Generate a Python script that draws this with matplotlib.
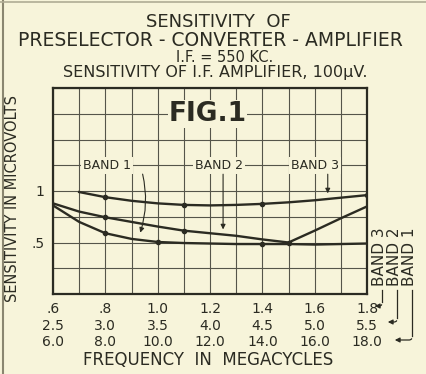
import matplotlib
matplotlib.use("Agg")
import matplotlib.pyplot as plt
from matplotlib.lines import Line2D

# frequency steps on the band 1 scale (megacycles)
freq = [0.6, 0.7, 0.8, 0.9, 1.0, 1.1, 1.2, 1.3, 1.4, 1.5, 1.6, 1.7, 1.8]
band1 = [0.86, 0.70, 0.59, 0.535, 0.505, 0.495, 0.49, 0.485, 0.485, 0.485, 0.48, 0.485, 0.49]
band2 = [0.88, 0.80, 0.745, 0.70, 0.655, 0.615, 0.59, 0.565, 0.53, 0.50, 0.615, 0.735, 0.85]
freq3 = freq[1:]
band3 = [0.99, 0.94, 0.905, 0.88, 0.865, 0.86, 0.865, 0.875, 0.89, 0.91, 0.935, 0.96]

row1 = [".6", ".8", "1.0", "1.2", "1.4", "1.6", "1.8"]
row2 = ["2.5", "3.0", "3.5", "4.0", "4.5", "5.0", "5.5"]
row3 = ["6.0", "8.0", "10.0", "12.0", "14.0", "16.0", "18.0"]
tick_pos = [0.6, 0.8, 1.0, 1.2, 1.4, 1.6, 1.8]

BG = "#f7f4da"
INK = "#2b2b22"
W, H = 427, 374


def px(x, y):
    return x / W, 1 - y / H


fig = plt.figure(figsize=(W / 100, H / 100), dpi=100, facecolor=BG)
ax = fig.add_axes([53 / W, 1 - 294 / H, (367 - 53) / W, (294 - 88) / H])
ax.set_facecolor(BG)
ax.set_xlim(0.6, 1.8)
ax.set_ylim(0, 2.0)

for i in range(13):
    ax.axvline(0.6 + 0.1 * i, color="#55554a", lw=0.8, zorder=1)
for j in range(9):
    ax.axhline(0.25 * j, color="#55554a", lw=0.8, zorder=1)
for s in ax.spines.values():
    s.set_linewidth(1.6)
    s.set_color(INK)

ax.plot(freq, band1, color=INK, lw=1.7, marker="o", ms=3, markevery=[2, 4, 8], zorder=3)
ax.plot(freq, band2, color=INK, lw=1.7, marker="o", ms=3, markevery=[2, 5, 9], zorder=3)
ax.plot(freq3, band3, color=INK, lw=1.7, marker="o", ms=3, markevery=[1, 4, 7, 11], zorder=3)

ax.set_yticks([0.5, 1.0])
ax.set_yticklabels([".5", "1"], fontsize=10, color=INK)
ax.set_xticks(tick_pos)
ax.set_xticklabels(["\n".join(r) for r in zip(row1, row2, row3)],
                   fontsize=10, color=INK, linespacing=1.2)
ax.tick_params(length=0, pad=6)

box = dict(facecolor=BG, edgecolor="none", pad=1.5)
ax.text(1.19, 1.75, "FIG.1", fontsize=19, fontweight="bold", color=INK,
        ha="center", va="center", bbox=dict(facecolor=BG, edgecolor="none", pad=0.5), zorder=4)
ax.text(0.806, 1.25, "BAND 1", fontsize=9, color=INK, ha="center", va="center", bbox=box, zorder=4)
ax.text(1.234, 1.25, "BAND 2", fontsize=9, color=INK, ha="center", va="center", bbox=box, zorder=4)
ax.text(1.60, 1.25, "BAND 3", fontsize=9, color=INK, ha="center", va="center", bbox=box, zorder=4)

arrow = dict(arrowstyle="-|>", color=INK, lw=0.8, mutation_scale=7)
ax.annotate("", xy=(0.93, 0.57), xytext=(0.94, 1.19),
            arrowprops=dict(arrow, connectionstyle="arc3,rad=-0.15"), zorder=4)
ax.annotate("", xy=(1.25, 0.60), xytext=(1.25, 1.19), arrowprops=arrow, zorder=4)
ax.annotate("", xy=(1.65, 0.95), xytext=(1.65, 1.19), arrowprops=arrow, zorder=4)

# headings
fig.text(*px(218, 22), "SENSITIVITY  OF", fontsize=13, color=INK, ha="center", va="center")
fig.text(*px(210, 40), "PRESELECTOR - CONVERTER - AMPLIFIER", fontsize=13.5, color=INK,
         ha="center", va="center")
fig.text(*px(225, 57), "I.F. = 550 KC.", fontsize=10.5, color=INK, ha="center", va="center")
fig.text(*px(215, 73), "SENSITIVITY OF I.F. AMPLIFIER, 100\u03bcV.", fontsize=11.5, color=INK,
         ha="center", va="center")
fig.text(*px(13, 198), "SENSITIVITY IN MICROVOLTS", fontsize=10.5, color=INK, rotation=90,
         ha="center", va="center")
fig.text(*px(208, 360), "FREQUENCY  IN  MEGACYCLES", fontsize=12, color=INK, ha="center", va="center")

# band scale keys on the right
for xk, name in [(380, "BAND 3"), (395, "BAND 2"), (410, "BAND 1")]:
    fig.text(*px(xk, 286), name, fontsize=11, color=INK, rotation=90, ha="center", va="bottom")

key_arrow = dict(arrowstyle="-|>", color=INK, lw=0.9, mutation_scale=7)
for x0, yend, xtip in [(382, 306, 372), (397, 322, 385), (412, 340, 392)]:
    fig.add_artist(Line2D([x0 / W, x0 / W], [1 - 290 / H, 1 - (yend - 4) / H], color=INK, lw=0.9))
    ax.annotate("", xy=(xtip, H - yend), xytext=(x0, H - yend + 4), xycoords="figure pixels",
                textcoords="figure pixels", annotation_clip=False,
                arrowprops=dict(key_arrow, connectionstyle="angle,angleA=90,angleB=0,rad=3"))

# page edges
fig.add_artist(Line2D([3 / W, 3 / W], [0, 1], color="#8a8670", lw=1.5))
fig.add_artist(Line2D([0, 1], [1 - 2 / H, 1 - 2 / H], color="#b0ac95", lw=1.2))

fig.savefig("out.png", dpi=100, facecolor=BG)
